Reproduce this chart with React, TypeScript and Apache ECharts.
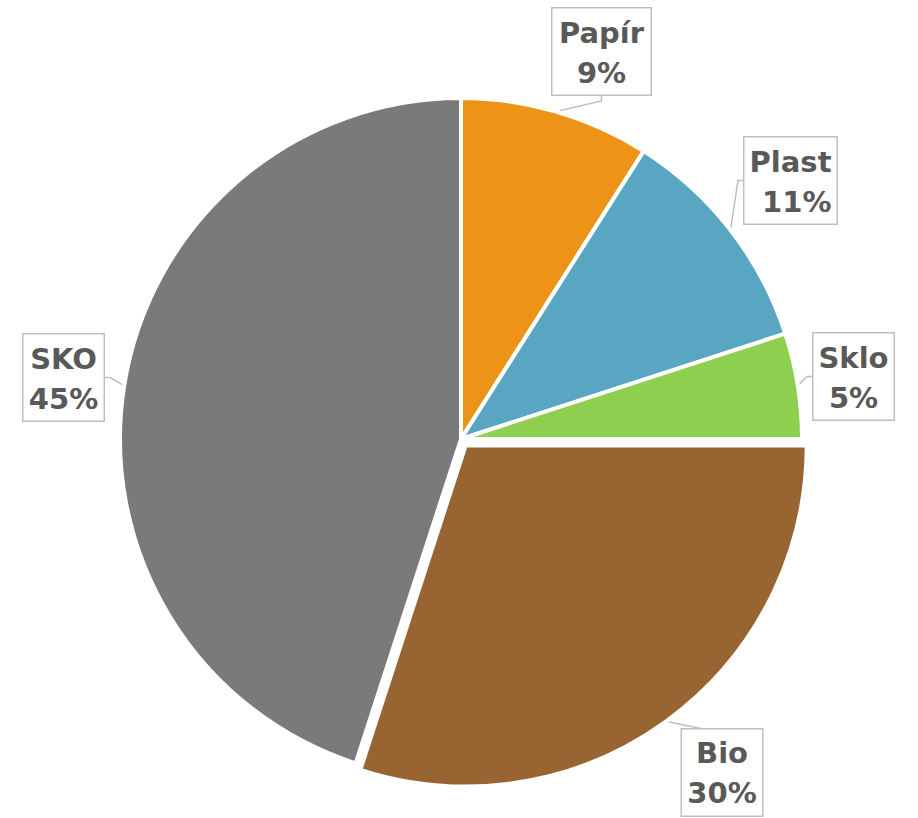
import React, { useEffect, useRef } from "react";
import * as echarts from "echarts";

const categories = ["Papír", "Plast", "Sklo", "Bio", "SKO"];
const values = [9, 11, 5, 30, 45];
const colors = ["#ED9418", "#59A6C2", "#8FCF4F", "#986432", "#7A7A7A"];

export default function App() {
  const ref = useRef<HTMLDivElement>(null);
  useEffect(() => {
    if (!ref.current) return;
    const chart = echarts.init(ref.current, null, { renderer: "svg" });
    const labelCenters: Record<number, [number, number]> = {
      0: [603, 53],
      1: [792, 182],
      2: [855, 378],
      3: [716, 777],
      4: [65, 379],
    };
    const boxWidths = [88, 82, 70, 70, 70];
    const textStyle = {
      fontFamily: "DejaVu Sans",
      fontWeight: "bold" as const,
      fontSize: 29,
      lineHeight: 40,
      color: "#595959",
    };
    chart.setOption({
      animation: false,
      backgroundColor: "#ffffff",
      series: [
        {
          type: "pie",
          center: [461, 439],
          radius: [0, 341],
          startAngle: 90,
          clockwise: true,
          selectedMode: "single",
          selectedOffset: 8,
          data: categories.map((name, i) => ({
            name,
            value: values[i],
            selected: name === "Bio",
            itemStyle: { color: colors[i] },
            label: {
              rich: {
                a: {
                  ...textStyle,
                  width: boxWidths[i],
                  align: name === "Plast" ? "right" : "center",
                },
              },
            },
          })),
          itemStyle: { borderColor: "#ffffff", borderWidth: 4 },
          label: {
            show: true,
            formatter: (p: any) => `{a|${p.name}}\n{a|${p.value}%}`,
            ...textStyle,
            backgroundColor: "#ffffff",
            borderColor: "#BFBFBF",
            borderWidth: 1.5,
            padding: [4, 5, 2, 5],
          },
          labelLine: {
            show: true,
            length: 10,
            length2: 5,
            lineStyle: { color: "#BFBFBF", width: 1.5 },
          },
          labelLayout: (params: any) => {
            const c = labelCenters[params.dataIndex];
            const r = params.labelRect;
            return {
              x: c[0] - r.width / 2,
              y: c[1] - r.height / 2,
              align: "left",
              verticalAlign: "top",
            };
          },
          emphasis: { disabled: true },
        },
      ],
    });
    return () => chart.dispose();
  }, []);
  return (
    <div
      ref={ref}
      style={{ position: "fixed", left: 0, top: 0, width: 918, height: 818 }}
    />
  );
}
